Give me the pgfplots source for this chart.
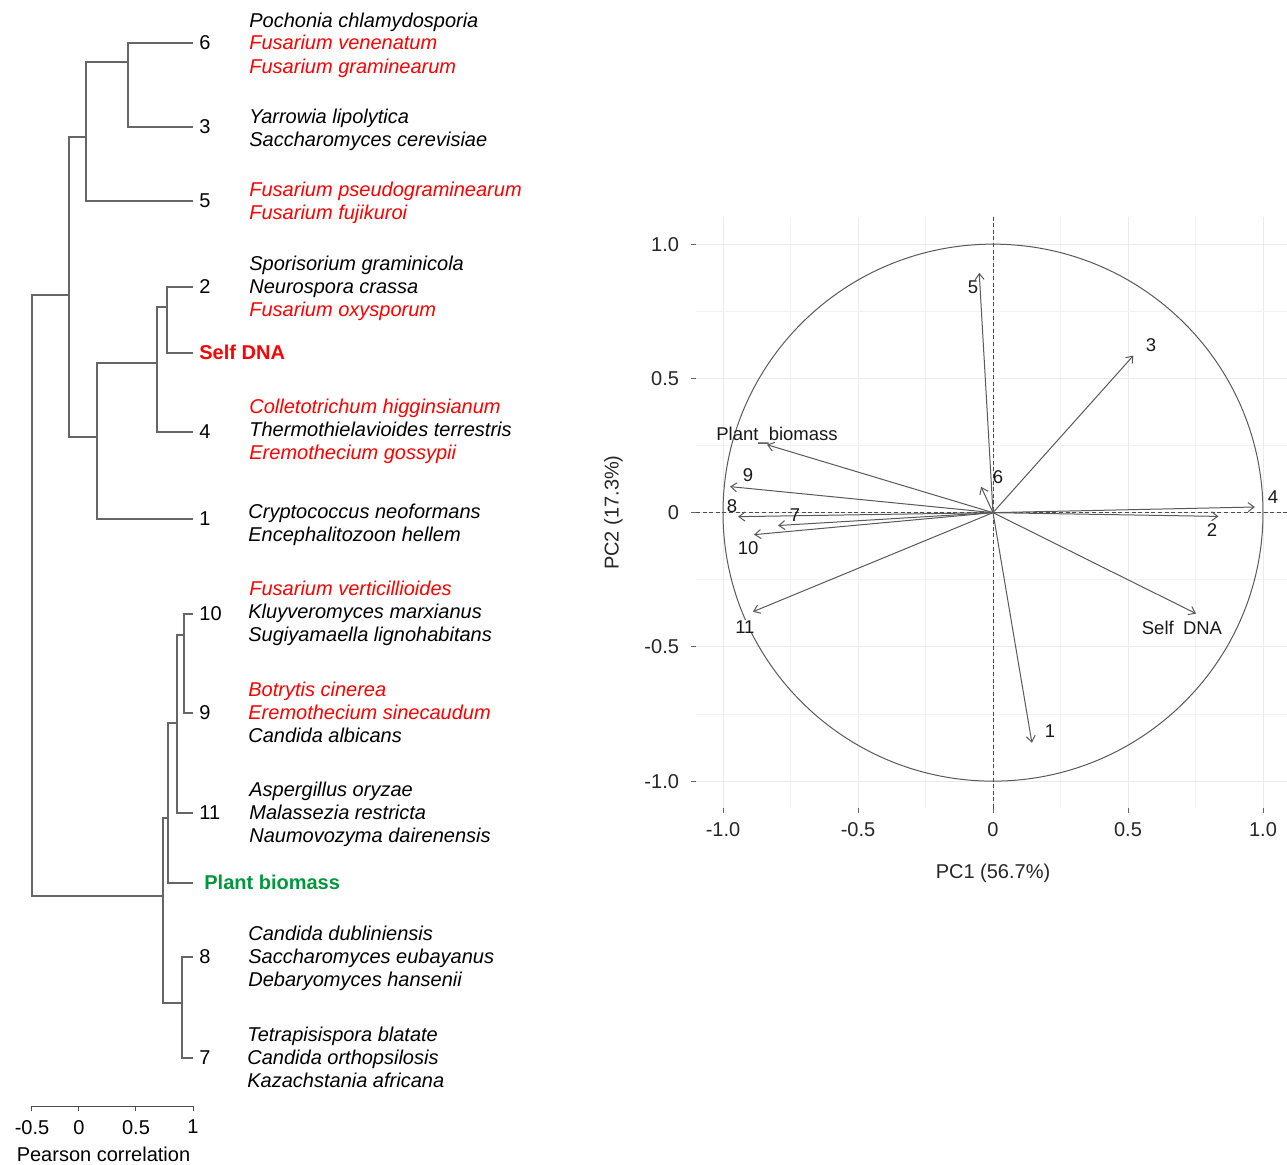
\documentclass[border=0pt]{standalone}
\usepackage{fontspec}
\setmainfont{Liberation Sans}
\usepackage{pgfplots}
\pgfplotsset{compat=1.18}
\usetikzlibrary{arrows.meta}
\definecolor{fred}{RGB}{255,0,0}
\definecolor{fgreen}{RGB}{0,150,60}
\begin{document}
\begin{tikzpicture}
\useasboundingbox (0,0) rectangle (643.5pt,-582.5pt);
% ---------------- dendrogram ----------------
\begin{axis}[
  at={(16pt,-553pt)}, anchor=south west,
  scale only axis, width=80.5pt, height=543pt,
  xmin=-0.412, xmax=1.0, ymin=-1106, ymax=-20,
  axis x line*=bottom, axis y line=none,
  clip=false,
  xtick={-0.412,0,0.5,1}, xticklabels={-0.5,0,0.5,1},
  tick align=outside, major tick length=2.5pt,
  x axis line style={black!70, line width=0.5pt},
  tick style={black!70, line width=0.5pt},
  tick label style={font=\fontsize{10}{12}\selectfont},
  xticklabel style={yshift=-1pt},
  xlabel={Pearson correlation},
  xlabel style={font=\fontsize{10}{12}\selectfont, yshift=-2pt, xshift=-4.5pt, inner sep=1pt},
  dl/.style={no marks, black!60, line width=0.7pt},
]
\addplot[dl] coordinates {(1,-43)(0.430,-43)(0.430,-127)(1,-127)};
\addplot[dl] coordinates {(0.430,-62)(0.061,-62)(0.061,-201)(1,-201)};
\addplot[dl] coordinates {(0.061,-137)(-0.088,-137)(-0.088,-437)(0.158,-437)};
\addplot[dl] coordinates {(1,-287)(0.772,-287)(0.772,-353)(1,-353)};
\addplot[dl] coordinates {(0.772,-307)(0.684,-307)(0.684,-432)(1,-432)};
\addplot[dl] coordinates {(0.684,-363)(0.158,-363)(0.158,-519)(1,-519)};
\addplot[dl] coordinates {(-0.088,-295)(-0.412,-295)(-0.412,-896)(0.737,-896)};
\addplot[dl] coordinates {(1,-614)(0.921,-614)(0.921,-713)(1,-713)};
\addplot[dl] coordinates {(0.921,-635)(0.860,-635)(0.860,-813)(1,-813)};
\addplot[dl] coordinates {(0.860,-723)(0.781,-723)(0.781,-883)(1,-883)};
\addplot[dl] coordinates {(0.781,-818)(0.737,-818)(0.737,-1003)(0.904,-1003)};
\addplot[dl] coordinates {(1,-957)(0.904,-957)(0.904,-1058)(1,-1058)};
\end{axis}
% ---------------- PCA circle ----------------
\begin{axis}[
  at={(348pt,-404pt)}, anchor=south west,
  scale only axis, width=297pt, height=295.35pt,
  xmin=-1.1, xmax=1.1, ymin=-1.1, ymax=1.1,
  xtick={-1,-0.5,0,0.5,1}, xticklabels={-1.0,-0.5,0,0.5,1.0},
  ytick={-1,-0.5,0,0.5,1}, yticklabels={-1.0,-0.5,0,0.5,1.0},
  minor xtick={-0.75,-0.25,0.25,0.75}, minor ytick={-0.75,-0.25,0.25,0.75},
  grid=both,
  major grid style={draw=black!8, line width=0.5pt},
  minor grid style={draw=black!5, line width=0.4pt},
  axis line style={draw=none},
  xtick pos=left, ytick pos=left,
  tick align=outside, major tick length=2.5pt, minor tick length=0pt,
  tick style={black!60, line width=0.5pt},
  tick label style={font=\fontsize{10}{12}\selectfont, text=black!85},
  yticklabel style={xshift=-2.5pt},
  xticklabel style={yshift=-1pt},
  xlabel={PC1 (56.7\%)}, ylabel={PC2 (17.3\%)},
  label style={font=\fontsize{10}{12}\selectfont, text=black!85},
  xlabel style={yshift=-7pt},
  ylabel style={yshift=4pt},
  clip=false,
  arr/.style={no marks, black!65, line width=0.5pt, -{Straight Barb[length=3pt,width=4.5pt]}},
]
\draw[black!65, line width=0.5pt] (axis cs:0,0) ellipse [x radius=1, y radius=1];
\draw[black!70, line width=0.5pt, dash pattern=on 2pt off 1.3pt] (axis cs:0,-1.1) -- (axis cs:0,1.1);
\draw[black!70, line width=0.5pt, dash pattern=on 2pt off 1.3pt] (axis cs:-1.1,0) -- (axis cs:1.1,0);
\addplot[arr] coordinates {(0,0)(-0.051,0.893)};
\addplot[arr] coordinates {(0,0)(0.520,0.585)};
\addplot[arr] coordinates {(0,0)(-0.044,0.096)};
\addplot[arr] coordinates {(0,0)(0.970,0.021)};
\addplot[arr] coordinates {(0,0)(0.835,-0.014)};
\addplot[arr] coordinates {(0,0)(-0.837,0.253)};
\addplot[arr] coordinates {(0,0)(-0.974,0.097)};
\addplot[arr] coordinates {(0,0)(-0.944,-0.015)};
\addplot[arr] coordinates {(0,0)(-0.796,-0.048)};
\addplot[arr] coordinates {(0,0)(-0.885,-0.082)};
\addplot[arr] coordinates {(0,0)(-0.889,-0.369)};
\addplot[arr] coordinates {(0,0)(0.752,-0.376)};
\addplot[arr] coordinates {(0,0)(0.144,-0.857)};
\begin{scope}[every node/.style={anchor=base, inner sep=0pt, font=\fontsize{9.25}{11}\selectfont, text=black!90}]
\node at (axis cs:-0.074,0.817) {5};
\node at (axis cs:0.585,0.601) {3};
\node at (axis cs:0.019,0.110) {6};
\node at (axis cs:1.037,0.035) {4};
\node at (axis cs:0.811,-0.088) {2};
\node at (axis cs:-0.80,0.270) {Plant\_biomass};
\node at (axis cs:-0.907,0.117) {9};
\node at (axis cs:-0.967,0.0015) {8};
\node at (axis cs:-0.733,-0.032) {7};
\node at (axis cs:-0.907,-0.155) {10};
\node[fill=white, inner xsep=1pt] at (axis cs:-0.919,-0.449) {11};
\node at (axis cs:0.700,-0.453) {Self\hspace{0.5em}DNA};
\node at (axis cs:0.211,-0.836) {1};
\end{scope}
\end{axis}
% ---------------- texts of the dendrogram ----------------
\begin{scope}[x=0.5pt, y=-0.5pt, every node/.style={anchor=base west, inner sep=0pt, font=\fontsize{10}{12}\selectfont}]
\node at (199,50) {6};
\node at (199,134) {3};
\node at (199,208) {5};
\node at (199,294) {2};
\node[text=fred, font=\bfseries\fontsize{10}{12}\selectfont] at (199,360) {Self DNA};
\node at (199,439) {4};
\node at (199,526) {1};
\node at (199,621) {10};
\node at (199,720) {9};
\node at (199,820) {11};
\node[text=fgreen, font=\bfseries\fontsize{10}{12}\selectfont] at (204,890) {Plant biomass};
\node at (199,964) {8};
\node at (199,1065) {7};
\begin{scope}[every node/.append style={font=\itshape\fontsize{10}{12}\selectfont}]
\node at (249,27.2) {Pochonia chlamydosporia};
\node[text=fred] at (249,50) {Fusarium venenatum};
\node[text=fred] at (249,73.2) {Fusarium graminearum};
\node at (249,124) {Yarrowia lipolytica};
\node at (249,147) {Saccharomyces cerevisiae};
\node[text=fred] at (249,197) {Fusarium pseudograminearum};
\node[text=fred] at (249,220) {Fusarium fujikuroi};
\node at (249,270.5) {Sporisorium graminicola};
\node at (249,293.5) {Neurospora crassa};
\node[text=fred] at (249,316.5) {Fusarium oxysporum};
\node[text=fred] at (249,413.5) {Colletotrichum higginsianum};
\node at (249,436.5) {Thermothielavioides terrestris};
\node[text=fred] at (249,459.5) {Eremothecium gossypii};
\node at (248,518.5) {Cryptococcus neoformans};
\node at (248,541.5) {Encephalitozoon hellem};
\node[text=fred] at (249,595.5) {Fusarium verticillioides};
\node at (248,618.5) {Kluyveromyces marxianus};
\node at (248,641.5) {Sugiyamaella lignohabitans};
\node[text=fred] at (248,696.5) {Botrytis cinerea};
\node[text=fred] at (248,719.5) {Eremothecium sinecaudum};
\node at (248,742.5) {Candida albicans};
\node at (249,796.5) {Aspergillus oryzae};
\node at (249,819.5) {Malassezia restricta};
\node at (249,842.5) {Naumovozyma dairenensis};
\node at (248,940.5) {Candida dubliniensis};
\node at (248,963.5) {Saccharomyces eubayanus};
\node at (248,986.5) {Debaryomyces hansenii};
\node at (247,1041.5) {Tetrapisispora blatate};
\node at (247,1064.5) {Candida orthopsilosis};
\node at (247,1087.5) {Kazachstania africana};
\end{scope}
\end{scope}
\end{tikzpicture}
\end{document}
